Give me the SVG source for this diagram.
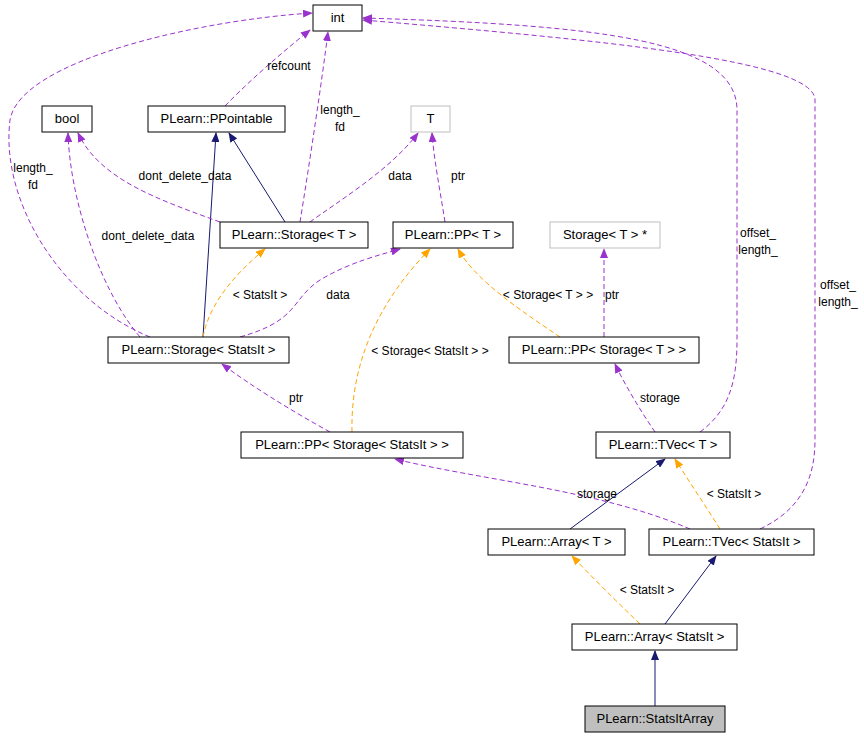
<svg xmlns="http://www.w3.org/2000/svg" width="864" height="739" viewBox="0 0 864 739">
<style>
text{font-family:"Liberation Sans",Arial,sans-serif;font-size:12px;fill:#000}
.n rect{fill:#fff;stroke:#000;stroke-width:1}
.n text{font-size:13px;text-anchor:middle}
.g rect{stroke:#bfbfbf}
.c text{text-anchor:middle}
.u{fill:none;stroke:#9a32cd;stroke-dasharray:5,3}
.o{fill:none;stroke:#ffa500;stroke-dasharray:5,3}
.s{fill:none;stroke:#191970}
</style>
<defs>
<marker id="ap" markerWidth="10" markerHeight="8" refX="9" refY="4" orient="auto" markerUnits="userSpaceOnUse"><path d="M0,0L10,4L0,8z" fill="#9a32cd"/></marker>
<marker id="ao" markerWidth="10" markerHeight="8" refX="9" refY="4" orient="auto" markerUnits="userSpaceOnUse"><path d="M0,0L10,4L0,8z" fill="#ffa500"/></marker>
<marker id="an" markerWidth="10" markerHeight="8" refX="9" refY="4" orient="auto" markerUnits="userSpaceOnUse"><path d="M0,0L10,4L0,8z" fill="#191970"/></marker>
</defs>
<g class="c" id="connectors">
<path class="s" marker-end="url(#an)" d="M285,222L229,133"/>
<path class="s" marker-end="url(#an)" d="M203,337L216,133"/>
<path class="u" marker-end="url(#ap)" d="M225,106C250,80 285,50 310,30"/>
<text x="289" y="70">refcount</text>
<path class="u" marker-end="url(#ap)" d="M300,222C310,160 322,80 328,32"/>
<text x="340" y="114">length_</text><text x="340" y="131">fd</text>
<path class="u" marker-end="url(#ap)" d="M310,222C340,200 390,170 418,133"/>
<text x="400" y="180">data</text>
<path class="u" marker-end="url(#ap)" d="M220,222C160,200 100,180 78,133"/>
<text x="185" y="180">dont_delete_data</text>
<path class="u" marker-end="url(#ap)" d="M150,337C60,300 0,200 10,120C20,60 200,20 312,13"/>
<text x="33" y="172">length_</text><text x="33" y="189">fd</text>
<path class="u" marker-end="url(#ap)" d="M140,337C100,290 70,200 68,133"/>
<text x="148" y="240">dont_delete_data</text>
<path class="o" marker-end="url(#ao)" d="M203,337C210,300 240,270 265,249"/>
<text x="260" y="299">&lt; StatsIt &gt;</text>
<path class="u" marker-end="url(#ap)" d="M240,337C300,320 290,300 320,280C350,262 380,255 400,249"/>
<text x="338" y="299">data</text>
<path class="u" marker-end="url(#ap)" d="M445,222C440,190 434,160 432,133"/>
<text x="458" y="180">ptr</text>
<path class="o" marker-end="url(#ao)" d="M352,432C350,350 390,290 430,249"/>
<text x="430" y="355">&lt; Storage&lt; StatsIt &gt; &gt;</text>
<path class="o" marker-end="url(#ao)" d="M560,337C520,310 475,280 458,249"/>
<text x="548" y="299">&lt; Storage&lt; T &gt; &gt;</text>
<path class="u" marker-end="url(#ap)" d="M604,337L604,249"/>
<text x="612" y="299">ptr</text>
<path class="u" marker-end="url(#ap)" d="M330,432C290,410 250,385 222,364"/>
<text x="296" y="402">ptr</text>
<path class="u" marker-end="url(#ap)" d="M655,432C640,410 625,385 615,364"/>
<text x="660" y="402">storage</text>
<path class="u" marker-end="url(#ap)" d="M700,432C730,410 737,380 737,340L737,110C737,40 600,25 363,18"/>
<text x="758" y="237">offset_</text><text x="758" y="254">length_</text>
<path class="s" marker-end="url(#an)" d="M570,529L665,459"/>
<path class="o" marker-end="url(#ao)" d="M720,529C705,505 688,480 675,459"/>
<text x="734" y="498">&lt; StatsIt &gt;</text>
<path class="u" marker-end="url(#ap)" d="M690,529C600,490 480,480 395,459"/>
<text x="597" y="498">storage</text>
<path class="u" marker-end="url(#ap)" d="M760,529C800,510 815,480 815,440L815,100C815,60 600,40 363,20"/>
<text x="838" y="289">offset_</text><text x="838" y="306">length_</text>
<path class="o" marker-end="url(#ao)" d="M640,624C615,600 590,575 572,556"/>
<text x="647" y="594">&lt; StatsIt &gt;</text>
<path class="s" marker-end="url(#an)" d="M665,624L716,556"/>
<path class="s" marker-end="url(#an)" d="M655,706L655,651"/>
</g>
<g class="n" id="int"><rect x="313" y="5" width="49" height="26"/><text x="337.5" y="22">int</text></g>
<g class="n" id="bool"><rect x="42" y="106" width="50" height="26"/><text x="67" y="123">bool</text></g>
<g class="n" id="PPointable"><rect x="148" y="106" width="137" height="26"/><text x="216.5" y="123">PLearn::PPointable</text></g>
<g class="n g" id="T"><rect x="411" y="106" width="39" height="26"/><text x="430.5" y="123">T</text></g>
<g class="n" id="StorageT"><rect x="220" y="222" width="148" height="26"/><text x="294" y="239">PLearn::Storage&lt; T &gt;</text></g>
<g class="n" id="PPT"><rect x="393" y="222" width="120" height="26"/><text x="453" y="239">PLearn::PP&lt; T &gt;</text></g>
<g class="n g" id="StorageTptr"><rect x="550" y="222" width="110" height="26"/><text x="605" y="239">Storage&lt; T &gt; *</text></g>
<g class="n" id="StorageStatsIt"><rect x="108" y="337" width="181" height="26"/><text x="198.5" y="354">PLearn::Storage&lt; StatsIt &gt;</text></g>
<g class="n" id="PPStorageT"><rect x="509" y="337" width="190" height="26"/><text x="604" y="354">PLearn::PP&lt; Storage&lt; T &gt; &gt;</text></g>
<g class="n" id="PPStorageStatsIt"><rect x="241" y="432" width="222" height="26"/><text x="352" y="449">PLearn::PP&lt; Storage&lt; StatsIt &gt; &gt;</text></g>
<g class="n" id="TVecT"><rect x="596" y="432" width="134" height="26"/><text x="663" y="449">PLearn::TVec&lt; T &gt;</text></g>
<g class="n" id="ArrayT"><rect x="488" y="529" width="137" height="26"/><text x="556.5" y="546">PLearn::Array&lt; T &gt;</text></g>
<g class="n" id="TVecStatsIt"><rect x="649" y="529" width="165" height="26"/><text x="731.5" y="546">PLearn::TVec&lt; StatsIt &gt;</text></g>
<g class="n" id="ArrayStatsIt"><rect x="572" y="624" width="165" height="26"/><text x="654.5" y="641">PLearn::Array&lt; StatsIt &gt;</text></g>
<g class="n" id="StatsItArray"><rect x="585" y="706" width="140" height="26" style="fill:#bfbfbf"/><text x="655" y="723">PLearn::StatsItArray</text></g>
</svg>
